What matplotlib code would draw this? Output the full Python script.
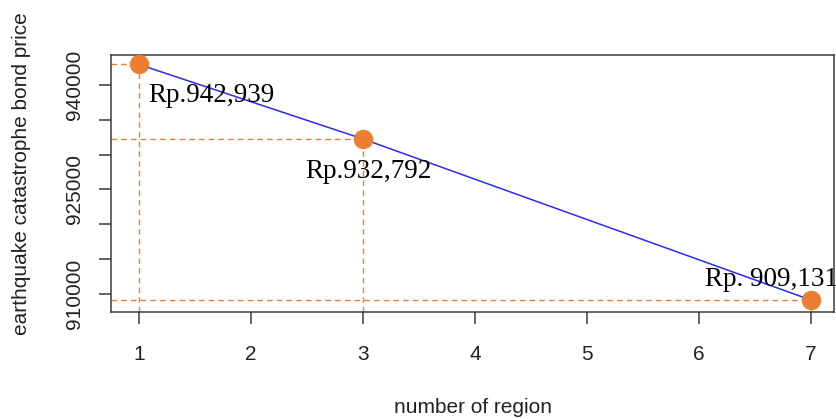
import matplotlib
matplotlib.use("Agg")
import matplotlib.pyplot as plt

# data
regions = [1, 3, 7]
prices = [942939, 932250, 909131]
price_labels = ["Rp.942,939", "Rp.932,792", "Rp. 909,131"]
x_ticks = [1, 2, 3, 4, 5, 6, 7]
y_ticks = [910000, 915000, 920000, 925000, 930000, 935000, 940000]
y_tick_labels = ["910000", "", "", "925000", "", "", "940000"]

orange = "#ED7D31"
axis_grey = "#3a3a3a"

plt.rcParams["font.family"] = ["Liberation Sans", "DejaVu Sans"]

fig = plt.figure(figsize=(8.37, 4.19), dpi=100)
ax = fig.add_axes([111 / 837, 1 - 312 / 419, (834 - 111) / 837, (312 - 55) / 419])

ax.set_xlim(0.75, 7.205)
ax.set_ylim(907420, 944300)
x0, x1 = ax.get_xlim()
y0, y1 = ax.get_ylim()

# guide lines from the axes to each point
for x, y in zip(regions, prices):
    ax.plot([x0, x], [y, y], color=orange, lw=1.0, dashes=(4, 3), zorder=2)
    ax.plot([x, x], [y0, y], color=orange, lw=1.0, dashes=(4, 3), zorder=2)

ax.plot(regions, prices, color="#2a2aff", lw=1.1, zorder=3)
ax.plot(regions, prices, "o", color=orange, markersize=13, zorder=4)

# value labels
offsets = [(9, -38, "left"), (5, -39, "center"), (-40, 14, "center")]
for x, y, text, (dx, dy, ha) in zip(regions, prices, price_labels, offsets):
    ax.annotate(
        text,
        (x, y),
        xytext=(dx, dy),
        textcoords="offset pixels",
        ha=ha,
        va="baseline",
        fontsize=19.5,
        family="Liberation Serif",
        zorder=5,
    )

ax.set_xticks(x_ticks)
ax.set_yticks(y_ticks)
ax.set_yticklabels(y_tick_labels, rotation=90, va="center")
ax.tick_params(axis="both", length=8.5, width=1.1, color=axis_grey,
               labelsize=15, labelcolor="#222222")
ax.tick_params(axis="x", pad=15)
ax.tick_params(axis="y", pad=11)

for spine in ax.spines.values():
    spine.set_color(axis_grey)
    spine.set_linewidth(1.1)

fig.text(472.5 / 837, 1 - 407 / 419, "number of region",
         ha="center", va="center", fontsize=15, color="#222222")
fig.text(22 / 837, 1 - 174 / 419, "earthquake catastrophe bond price",
         ha="center", va="center", rotation=90, fontsize=15, color="#222222")

fig.savefig("out.png", dpi=100)
